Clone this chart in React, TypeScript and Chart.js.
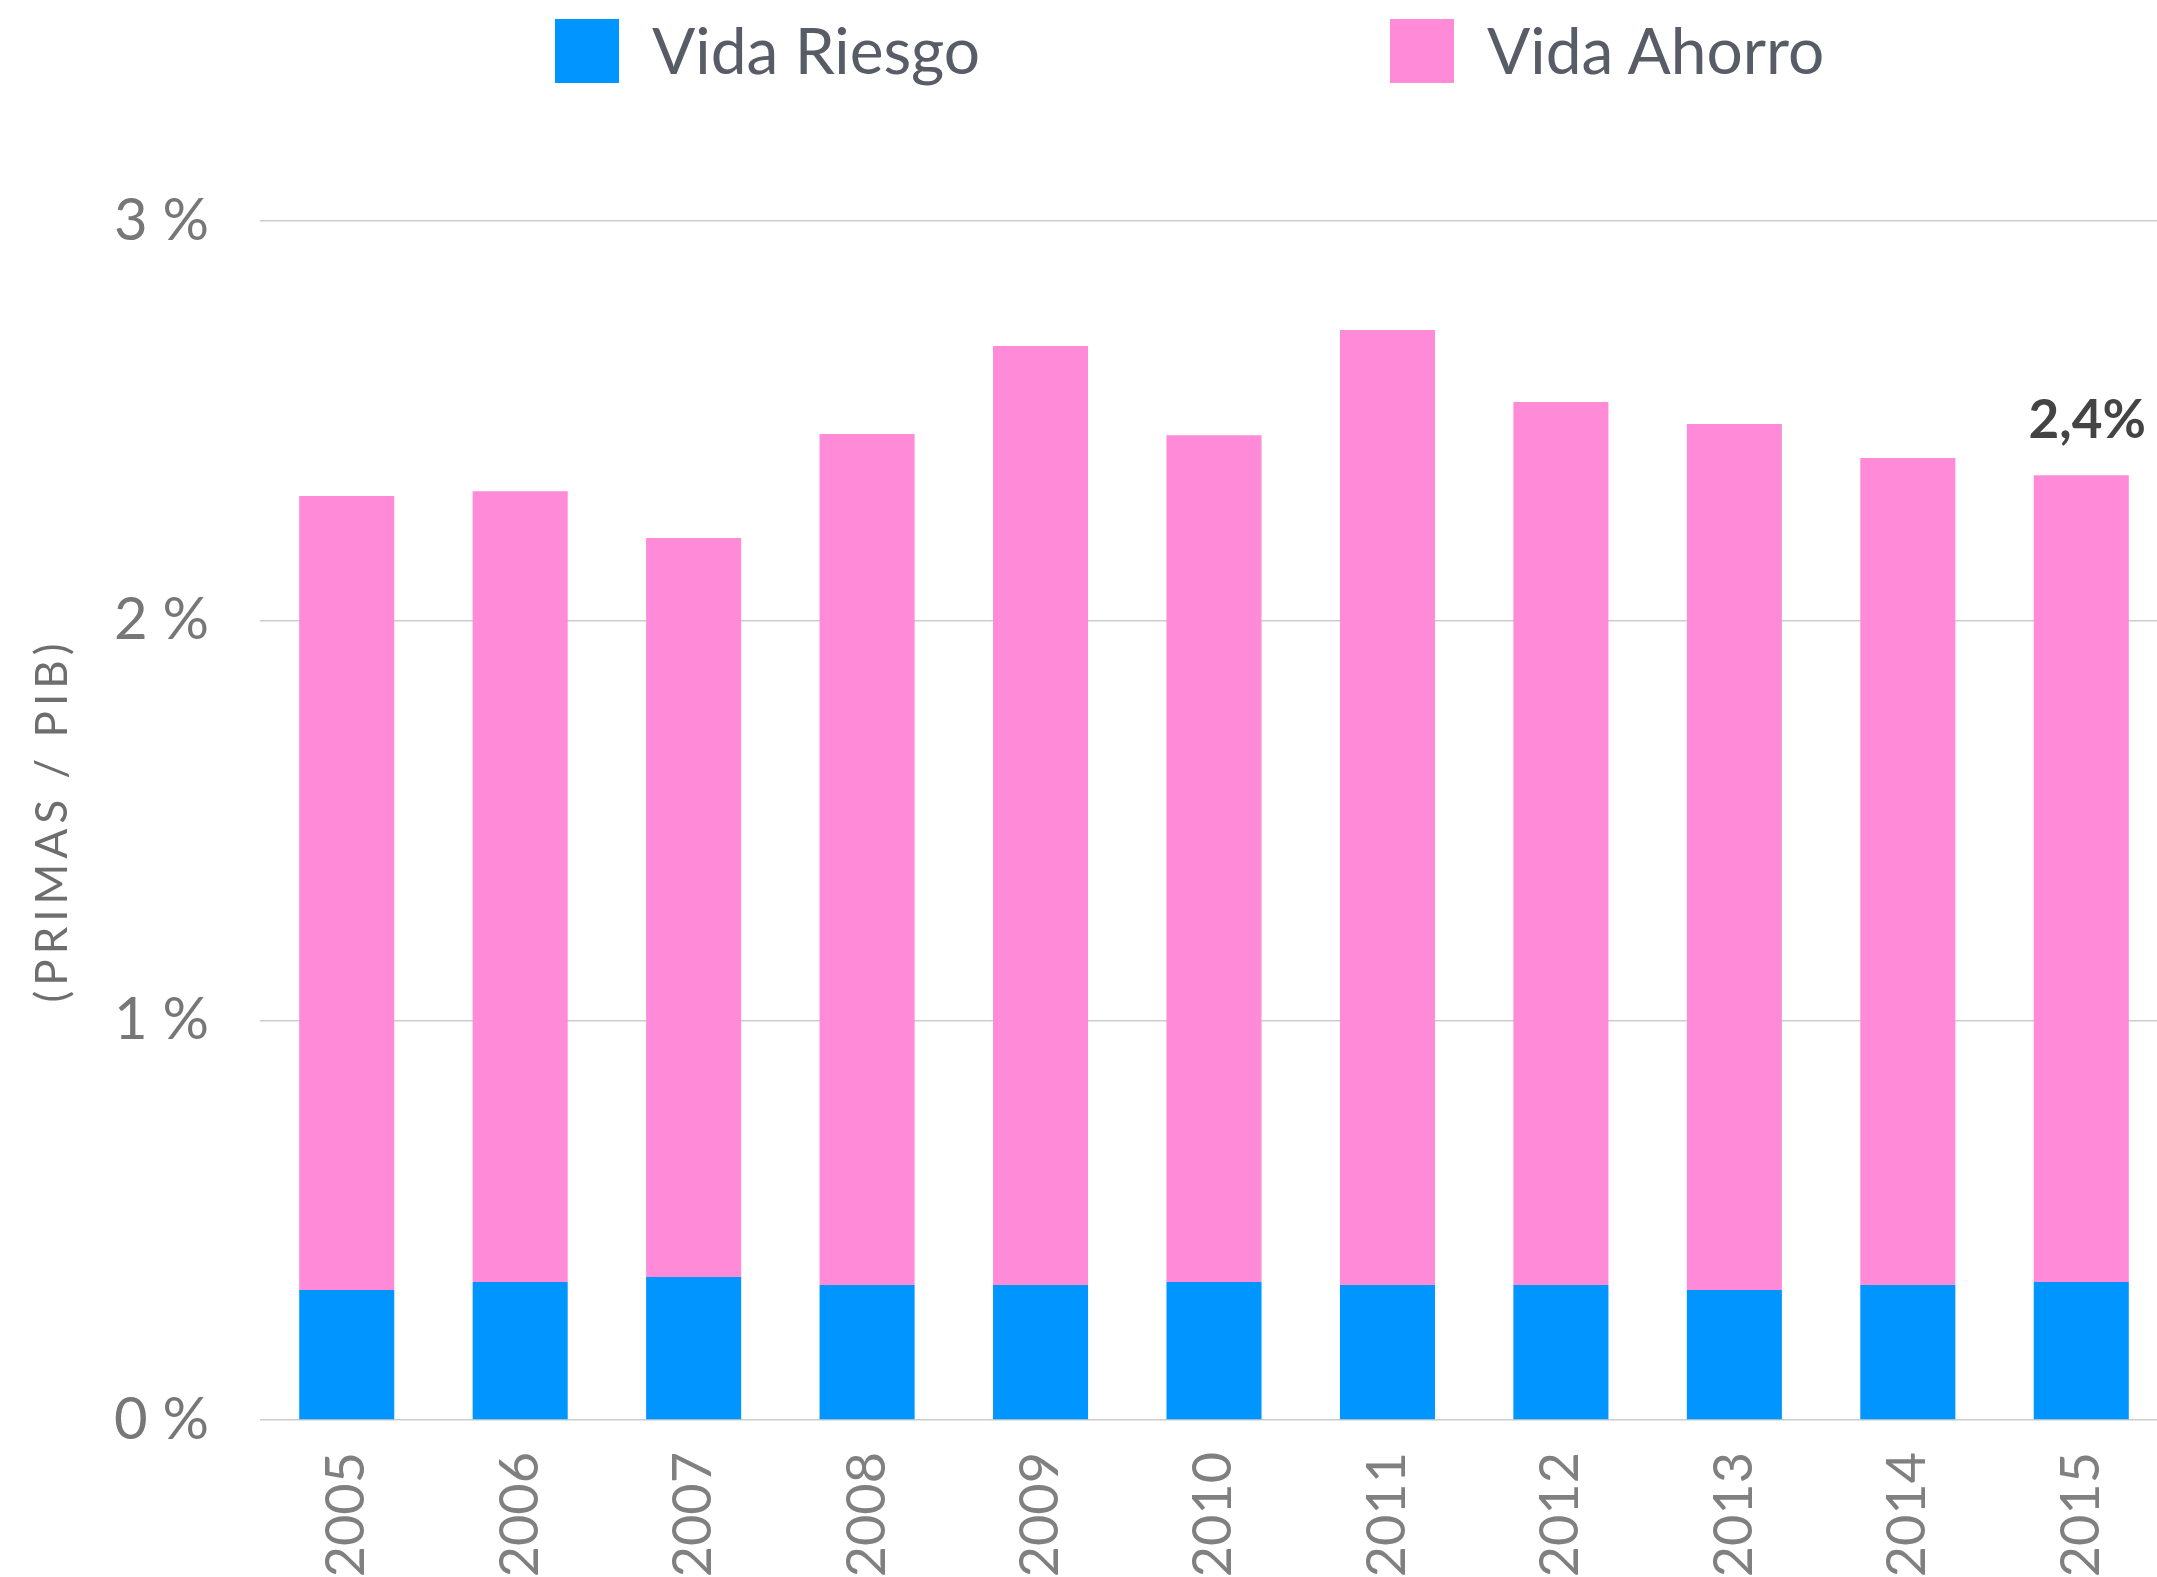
import React, { useEffect, useRef } from 'react';
import { Chart, registerables } from 'chart.js';

Chart.register(...registerables);

// ---- data ----
const years = ['2005', '2006', '2007', '2008', '2009', '2010', '2011', '2012', '2013', '2014', '2015'];
const vidaRiesgo = [0.325, 0.345, 0.358, 0.338, 0.338, 0.345, 0.338, 0.338, 0.325, 0.338, 0.345];
const vidaAhorro = [1.987, 1.979, 1.849, 2.129, 2.349, 2.119, 2.389, 2.209, 2.167, 2.069, 2.019];
const seriesNames = ['Vida Riesgo', 'Vida Ahorro'];
const seriesColors = ['#0095FF', '#FF8AD8'];
const yMin = 0;
const yMax = 3;
const yStep = 1;
const yAxisTitle = '(PRIMAS / PIB)';

// ---- layout / styling ----
const W = 2157;
const H = 1577;
const CANVAS_W = 2168;
const legendLeft = [555, 1390];

const lastLabelPlugin = {
  id: 'lastLabel',
  afterDatasetsDraw(chart: any) {
    const ctx = chart.ctx;
    const i = years.length - 1;
    const total = vidaRiesgo[i] + vidaAhorro[i];
    const text = total.toFixed(1).replace('.', ',') + '%';
    const x = chart.scales.x.getPixelForValue(i);
    const y = chart.scales.y.getPixelForValue(total);
    ctx.save();
    ctx.font = 'bold 53px Lato';
    ctx.fillStyle = '#444444';
    ctx.textAlign = 'center';
    ctx.textBaseline = 'alphabetic';
    ctx.fillText(text, x + 6, y - 37);
    ctx.restore();
  },
};

export default function App() {
  const ref = useRef<HTMLCanvasElement | null>(null);

  useEffect(() => {
    if (!ref.current) return;
    const chart = new Chart(ref.current, {
      type: 'bar',
      data: {
        labels: years,
        datasets: [
          {
            label: seriesNames[0],
            data: vidaRiesgo,
            backgroundColor: seriesColors[0],
            barPercentage: 0.548,
            categoryPercentage: 1.0,
          },
          {
            label: seriesNames[1],
            data: vidaAhorro,
            backgroundColor: seriesColors[1],
            barPercentage: 0.548,
            categoryPercentage: 1.0,
          },
        ],
      },
      options: {
        animation: false,
        responsive: false,
        devicePixelRatio: 1,
        layout: { padding: { top: 221, right: 0, left: 0, bottom: 0 } },
        plugins: {
          legend: { display: false },
          tooltip: { enabled: false },
        },
        scales: {
          x: {
            stacked: true,
            grid: { display: false },
            border: { display: false },
            ticks: {
              minRotation: 90,
              maxRotation: 90,
              autoSkip: false,
              padding: 24,
              color: '#808080',
              font: { family: 'Lato', size: 54, lineHeight: 1 },
            },
            afterFit: (s: any) => {
              s.height = 157;
            },
          },
          y: {
            stacked: true,
            min: yMin,
            max: yMax,
            border: { display: false },
            grid: { color: '#cccccc', lineWidth: 1.5, drawTicks: false },
            ticks: {
              stepSize: yStep,
              padding: 51,
              color: '#777777',
              font: { family: 'Lato', size: 58 },
              callback: (v: any) => v + ' %',
            },
            title: {
              display: true,
              text: yAxisTitle,
              color: '#6e6e6e',
              font: { family: 'Lato', size: 44, weight: 'normal' },
              padding: { top: 26, bottom: 0 },
            },
            afterFit: (s: any) => {
              s.width = 260;
              if (!s.__spaced) {
                s.__spaced = true;
                const orig = s.drawTitle;
                s.drawTitle = function () {
                  const c = this.ctx;
                  c.save();
                  c.letterSpacing = '5px';
                  orig.call(this);
                  c.restore();
                };
              }
            },
          },
        },
      },
      plugins: [lastLabelPlugin],
    });
    return () => chart.destroy();
  }, []);

  return (
    <div
      style={{
        position: 'absolute',
        left: 0,
        top: 0,
        width: W,
        height: H,
        overflow: 'hidden',
        background: '#ffffff',
      }}
    >
      <canvas ref={ref} width={CANVAS_W} height={H} style={{ position: 'absolute', left: 0, top: 0 }} />
      {seriesNames.map((name, i) => (
        <div key={name} style={{ position: 'absolute', left: legendLeft[i], top: 0 }}>
          <div
            style={{
              position: 'absolute',
              left: 0,
              top: 19,
              width: 64,
              height: 64,
              background: seriesColors[i],
            }}
          />
          <div
            style={{
              position: 'absolute',
              left: 97,
              top: 18,
              whiteSpace: 'nowrap',
              fontFamily: 'Lato',
              fontSize: 64,
              lineHeight: '64px',
              color: '#575c66',
            }}
          >
            {name}
          </div>
        </div>
      ))}
    </div>
  );
}
